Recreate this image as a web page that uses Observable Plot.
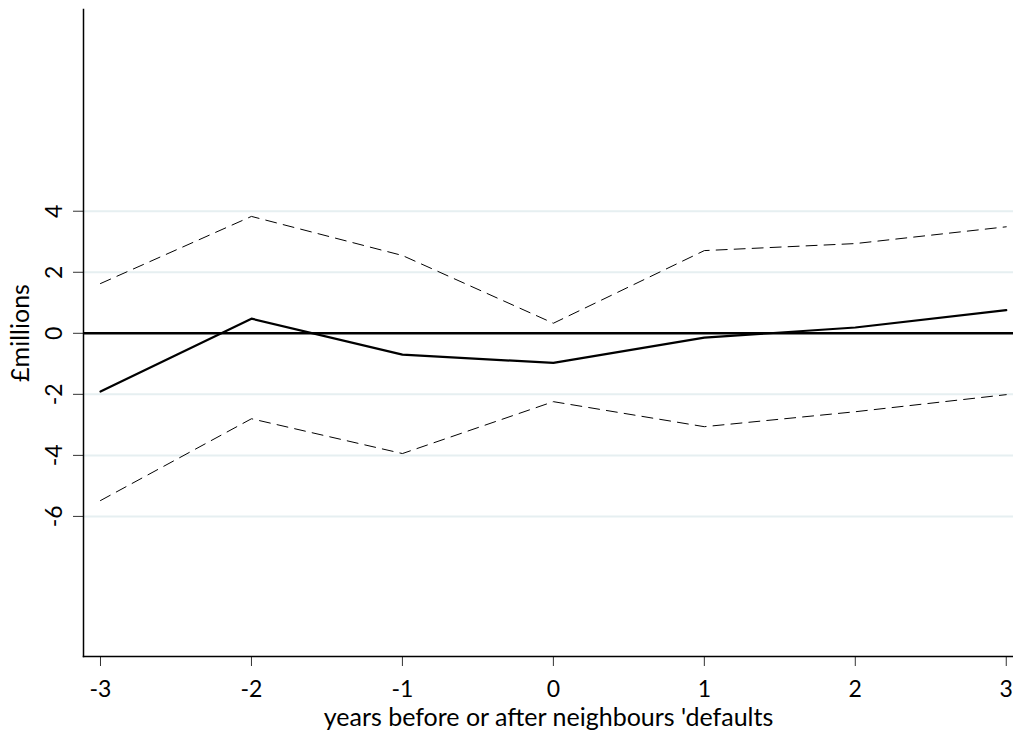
<!DOCTYPE html>
<html>
<head>
<meta charset="utf-8">
<script src="https://cdn.jsdelivr.net/npm/d3@7"></script>
<script src="https://cdn.jsdelivr.net/npm/@observablehq/plot@0.6"></script>
<style>
  html, body { margin: 0; padding: 0; background: white; }
</style>
</head>
<body>
<div id="chart"></div>
<script>
const years = [-3, -2, -1, 0, 1, 2, 3];
const estimate = [-1.91, 0.48, -0.70, -0.97, -0.14, 0.19, 0.76];
const upper = [1.63, 3.83, 2.55, 0.33, 2.71, 2.94, 3.49];
const lower = [-5.48, -2.80, -3.94, -2.24, -3.06, -2.57, -2.01];
const xTicks = [-3, -2, -1, 0, 1, 2, 3];
const yTicks = [-6, -4, -2, 0, 2, 4];
const gridTicks = [-6, -4, -2, 2, 4];
const xTitle = "years before or after neighbours 'defaults";
const yTitle = "£millions";

const rows = years.map((y, i) => ({year: y, est: estimate[i], hi: upper[i], lo: lower[i]}));

const chart = Plot.plot({
  width: 1013,
  height: 731,
  marginLeft: 83,
  marginRight: 0,
  marginTop: 9,
  marginBottom: 75,
  style: {fontFamily: "Lato, 'Open Sans', sans-serif", fontSize: "23px", background: "white", color: "black"},
  x: {domain: [-3.1126, 3.048]},
  y: {domain: [-10.59, 10.61]},
  marks: [
    Plot.gridY(gridTicks, {stroke: "#e6eff1", strokeOpacity: 1, strokeWidth: 2}),
    Plot.ruleY([0], {stroke: "black", strokeWidth: 2.5}),
    Plot.lineY(rows, {x: "year", y: "hi", stroke: "black", strokeWidth: 1, strokeDasharray: "11,7"}),
    Plot.lineY(rows, {x: "year", y: "lo", stroke: "black", strokeWidth: 1, strokeDasharray: "11,7"}),
    Plot.lineY(rows, {x: "year", y: "est", stroke: "black", strokeWidth: 2.2}),
    Plot.axisY(yTicks, {tickSize: 10, tickRotate: -90, tickPadding: 12, tickFormat: d => String(d), label: null, stroke: "#333", fontSize: 23}),
    Plot.axisX(xTicks, {tickSize: 10, tickPadding: 14, tickFormat: d => String(d), label: null, stroke: "#333", fontSize: 23}),
    Plot.frame({anchor: "left", stroke: "black", strokeWidth: 1.5}),
    Plot.frame({anchor: "bottom", stroke: "black", strokeWidth: 1.5}),
    Plot.text([xTitle], {frameAnchor: "bottom", textAnchor: "middle", lineAnchor: "bottom", dy: 69, fontSize: 25, fill: "black"}),
    Plot.text([yTitle], {frameAnchor: "left", textAnchor: "middle", rotate: -90, dx: -63, fontSize: 25, fill: "black"})
  ]
});
document.getElementById("chart").appendChild(chart);
</script>
</body>
</html>
